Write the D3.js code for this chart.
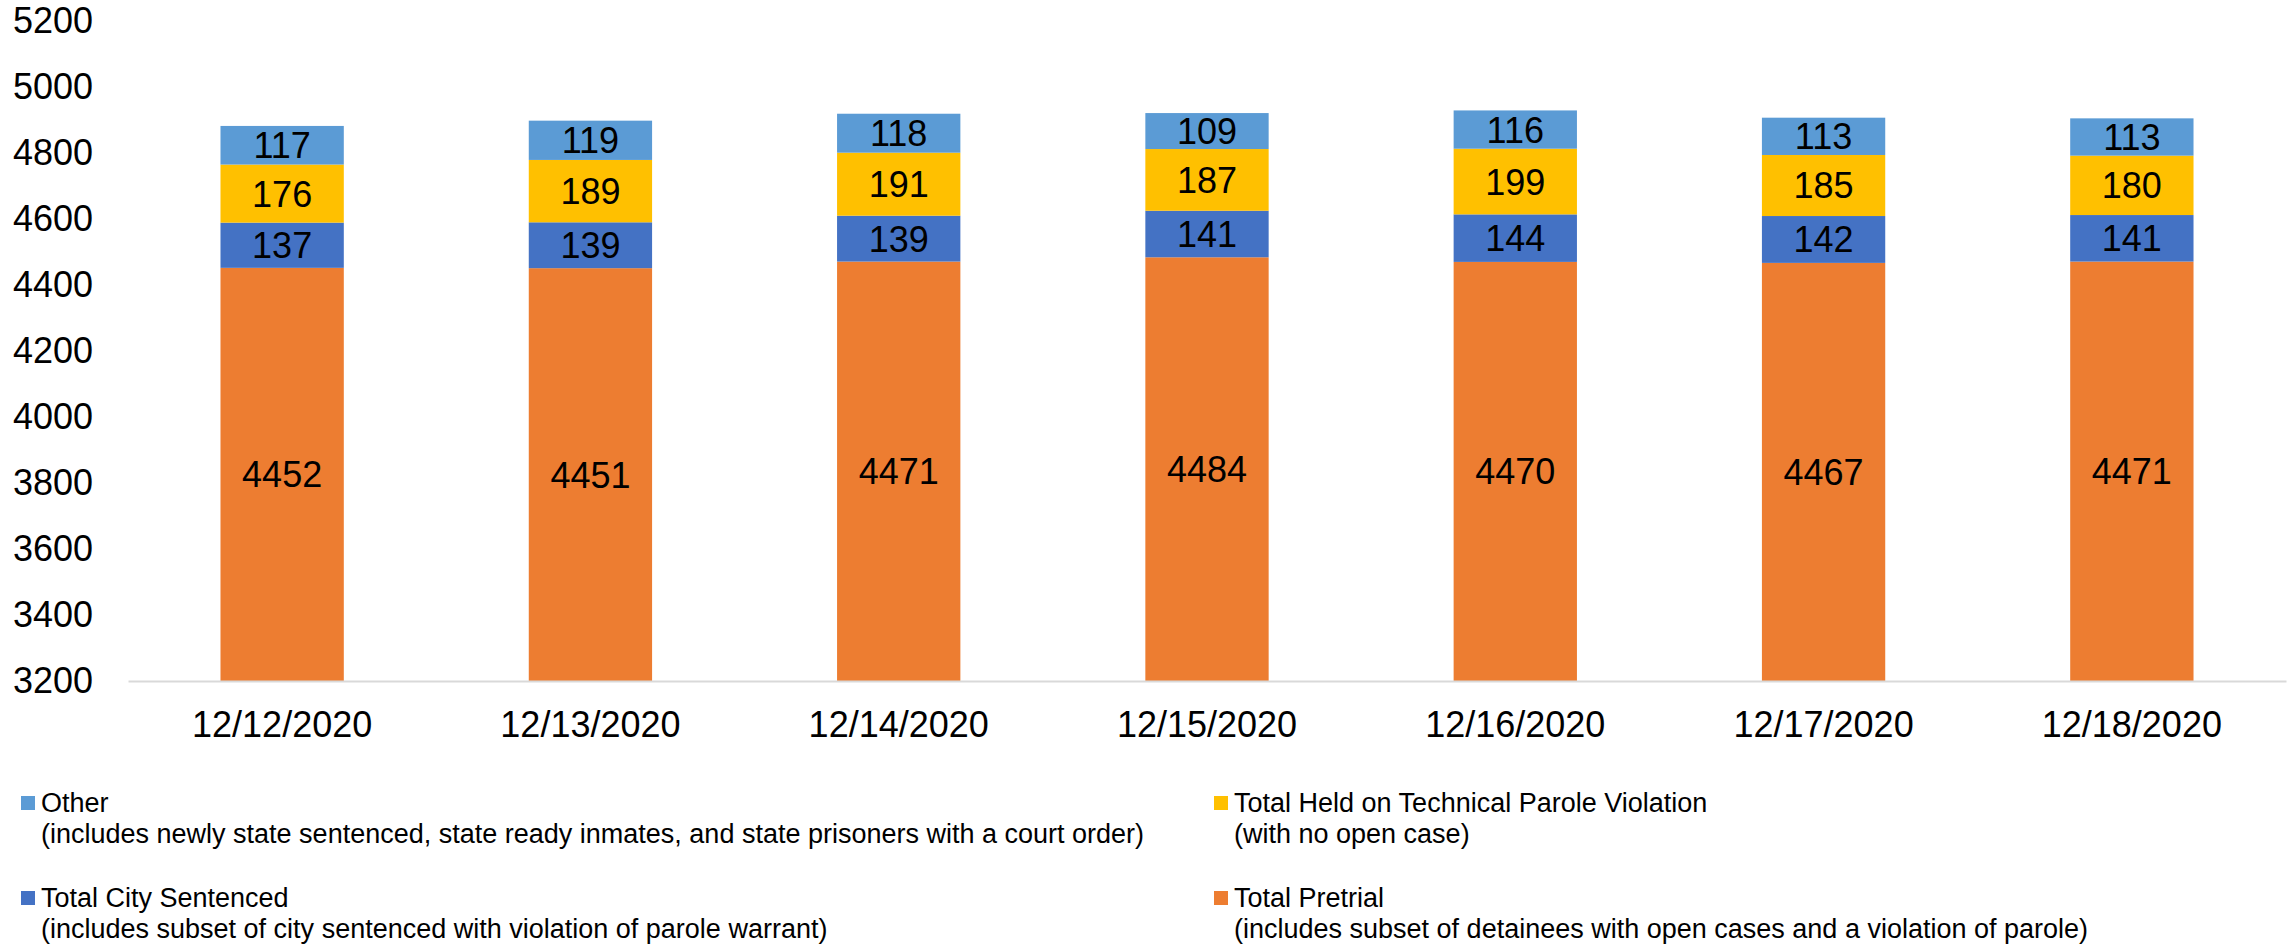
<!DOCTYPE html>
<html><head><meta charset="utf-8">
<script src="https://cdn.jsdelivr.net/npm/d3@7"></script>
<style>
html,body{margin:0;padding:0;background:#fff;}
svg{display:block;font-family:"Liberation Sans",Arial,sans-serif;}
</style></head>
<body>
<svg id="chart" width="2287" height="944"></svg>
<script>
const dates = ["12/12/2020","12/13/2020","12/14/2020","12/15/2020","12/16/2020","12/17/2020","12/18/2020"];
const pretrial = [4452,4451,4471,4484,4470,4467,4471];
const citySentenced = [137,139,139,141,144,142,141];
const technicalParole = [176,189,191,187,199,185,180];
const other = [117,119,118,109,116,113,113];
const yTicks = [3200,3400,3600,3800,4000,4200,4400,4600,4800,5000,5200];
const seriesNames = ["Total Pretrial","Total City Sentenced","Total Held on Technical Parole Violation","Other"];
const seriesColors = ["#ED7D31","#4472C4","#FFC000","#5B9BD5"];
const legendItems = [
  {name:"Other", sub:"(includes newly state sentenced, state ready inmates, and state prisoners with a court order)", color:"#5B9BD5", col:0, row:0},
  {name:"Total Held on Technical Parole Violation", sub:"(with no open case)", color:"#FFC000", col:1, row:0},
  {name:"Total City Sentenced", sub:"(includes subset of city sentenced with violation of parole warrant)", color:"#4472C4", col:0, row:1},
  {name:"Total Pretrial", sub:"(includes subset of detainees with open cases and a violation of parole)", color:"#ED7D31", col:1, row:1}
];

const svg = d3.select("#chart");
const mLeft = 128, mRight = 2286, mTop = 21, mBottom = 681;
const yMin = 3200;

const x = d3.scaleBand().domain(dates).range([mLeft,mRight]).paddingInner(0.6).paddingOuter(0.3);
const y = d3.scaleLinear().domain([3200,5200]).range([mBottom,mTop]);

const rows = dates.map((d,i)=>({date:d, s0:pretrial[i], s1:citySentenced[i], s2:technicalParole[i], s3:other[i]}));
const stack = d3.stack().keys(["s0","s1","s2","s3"]);
const stacked = stack(rows);

// y axis labels
const yAxis = d3.axisLeft(y).tickValues(yTicks).tickFormat(d3.format("d")).tickSize(0).tickPadding(35);
const gy = svg.append("g").attr("transform",`translate(${mLeft},0)`).call(yAxis);
gy.select(".domain").remove();
gy.selectAll("text").attr("font-size",36).attr("fill","#000").attr("font-family","Liberation Sans, Arial, sans-serif");

// bars
stacked.forEach((layer,li)=>{
  const g = svg.append("g");
  g.selectAll("rect").data(layer).enter().append("rect")
    .attr("x",d=>x(d.data.date))
    .attr("width",x.bandwidth())
    .attr("y",d=>y(d[1]))
    .attr("height",d=>y(Math.max(d[0],yMin))-y(d[1]))
    .attr("fill",seriesColors[li]);
  g.selectAll("text").data(layer).enter().append("text")
    .attr("x",d=>x(d.data.date)+x.bandwidth()/2)
    .attr("y",d=>(y(Math.max(d[0],yMin))+y(d[1]))/2)
    .attr("dy","0.36em")
    .attr("text-anchor","middle")
    .attr("font-size",36)
    .attr("fill","#000")
    .text(d=>d[1]-d[0]);
});

// x axis
const xAxis = d3.axisBottom(x).tickSize(0).tickPadding(0);
const gx = svg.append("g").attr("transform",`translate(0,${mBottom})`).call(xAxis);
gx.select(".domain").attr("stroke","#d9d9d9").attr("stroke-width",2);
gx.selectAll("text").attr("font-size",36).attr("fill","#000").attr("dy",null).attr("y",56)
  .attr("font-family","Liberation Sans, Arial, sans-serif");

// legend
const colX = [21, 1214];
const rowY = [812, 907];
legendItems.forEach(it=>{
  const g = svg.append("g").attr("transform",`translate(${colX[it.col]},${rowY[it.row]})`);
  g.append("rect").attr("x",0).attr("y",-16).attr("width",14).attr("height",14).attr("fill",it.color);
  g.append("text").attr("x",20).attr("y",0).attr("font-size",27).attr("fill","#000").text(it.name);
  g.append("text").attr("x",20).attr("y",31).attr("font-size",27).attr("fill","#000").text(it.sub);
});
</script>
</body></html>
